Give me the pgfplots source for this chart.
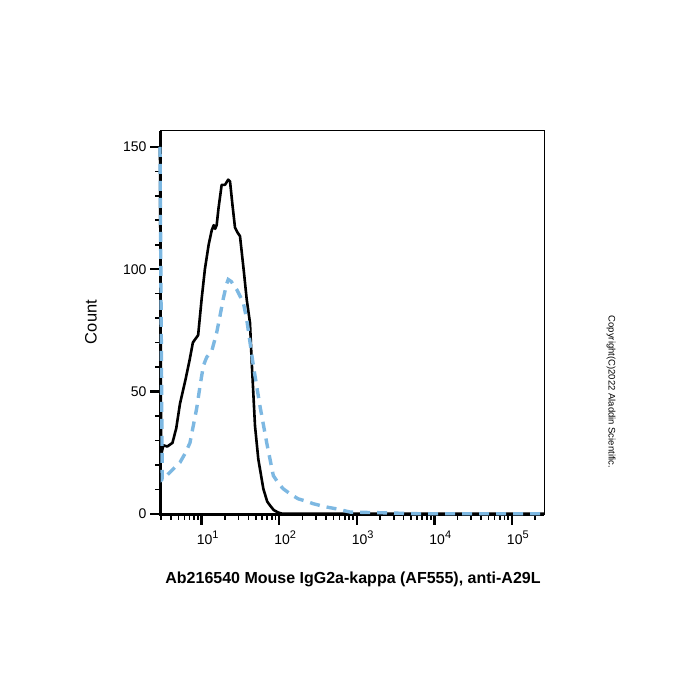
\documentclass[border=0pt]{standalone}
\usepackage{fontspec}
\setmainfont{Liberation Sans}
\usepackage{pgfplots}
\pgfplotsset{compat=1.18}
\definecolor{lblue}{RGB}{125,184,226}
\begin{document}
\begin{tikzpicture}
\useasboundingbox (-160pt,-185pt) rectangle (540pt,515pt);
\begin{axis}[
  at={(0,0)}, anchor=south west, scale only axis,
  width=384pt, height=384pt,
  xmode=log, xmin=2.9, xmax=2.6e5, ymin=-0.5, ymax=156.5,
  clip=false,
  axis line style={draw=none},
  xtick={10,100,1000,10000,100000},
  xticklabels={10\raisebox{0.45em}{\fontsize{11}{11}\selectfont 1},
               10\raisebox{0.45em}{\fontsize{11}{11}\selectfont 2},
               10\raisebox{0.45em}{\fontsize{11}{11}\selectfont 3},
               10\raisebox{0.45em}{\fontsize{11}{11}\selectfont 4},
               10\raisebox{0.45em}{\fontsize{11}{11}\selectfont 5}},
  minor xtick={3,4,5,6,7,8,9,20,30,40,50,60,70,80,90,200,300,400,500,600,700,800,900,
     2000,3000,4000,5000,6000,7000,8000,9000,20000,30000,40000,50000,60000,70000,80000,90000,200000},
  ytick={0,50,100,150},
  minor ytick={10,20,30,40,60,70,80,90,110,120,130,140},
  xtick pos=bottom, ytick pos=left,
  tick align=outside,
  major tick length=10pt, minor tick length=5pt,
  major tick style={line width=2.5pt, black},
  minor tick style={line width=1.6pt, black},
  tick label style={font=\fontsize{14}{16}\selectfont},
  /pgf/number format/assume math mode=true,
  xticklabel style={yshift=-2pt, xshift=6pt},
]
\draw[line width=1pt] (rel axis cs:0,1) -- (rel axis cs:1,1) -- (rel axis cs:1,0);
\draw[line width=3pt] (rel axis cs:0,1) -- (rel axis cs:0,0) -- (rel axis cs:1,0);
\addplot[black, line width=2.6pt, line join=round] coordinates {
(2.9,150) (3.0,24) (3.2,28) (3.6,27.5) (4.2,29) (4.7,35) (5.25,45) (6.2,55) (7.0,63)
(7.7,70) (8.3,71.5) (9.0,73) (10,88) (11,100) (12.3,110) (13.5,116) (14.3,118)
(14.9,116.5) (15.6,118) (16.5,125) (18.1,134.5) (20,134.5) (22,136.6) (23.2,135.9)
(25,126) (26.9,117) (29,115) (31.2,113.5) (35,99) (38.1,87.6) (42,78) (44.2,62)
(48.7,36) (53.7,22.4) (62.4,10.2) (70,5) (76.1,3.4) (85,1.5) (97.3,0.5) (110,0) (2.6e5,0)
};
\addplot[lblue, line width=3.4pt, dash pattern=on 10pt off 7pt] coordinates {
(2.9,150) (3.1,14) (3.2,14.3) (3.9,17) (5.25,21) (6.2,25) (7.06,29) (8.61,43) (9.5,52)
(10.5,60.5) (11.6,64) (13.5,66.6) (15.6,74) (17.2,80.8) (19,88) (21,94) (22,95.8) (24,95)
(28.3,91.7) (34.4,86.4) (38.1,79.5) (46.4,60.5) (56.5,44) (69,29) (83.9,15.6) (100,12)
(113,10.2) (140,8) (176,6.1) (220,5.2) (275,4.1) (400,2.8) (552,2.0) (820,0.7) (2180,0.4)
(6560,0) (2.6e5,0)
};
\end{axis}
\node[rotate=90, font=\fontsize{16.5}{18}\selectfont] at (-69pt,193pt) {Count};
\node[font=\fontsize{16}{18}\bfseries] at (193pt,-64pt) {Ab216540 Mouse IgG2a-kappa (AF555), anti-A29L};
\node[rotate=-90, font=\fontsize{9.5}{11}\selectfont] at (451pt,123pt) {Copyright(C)2022 Aladdin Scientific.};
\end{tikzpicture}
\end{document}
